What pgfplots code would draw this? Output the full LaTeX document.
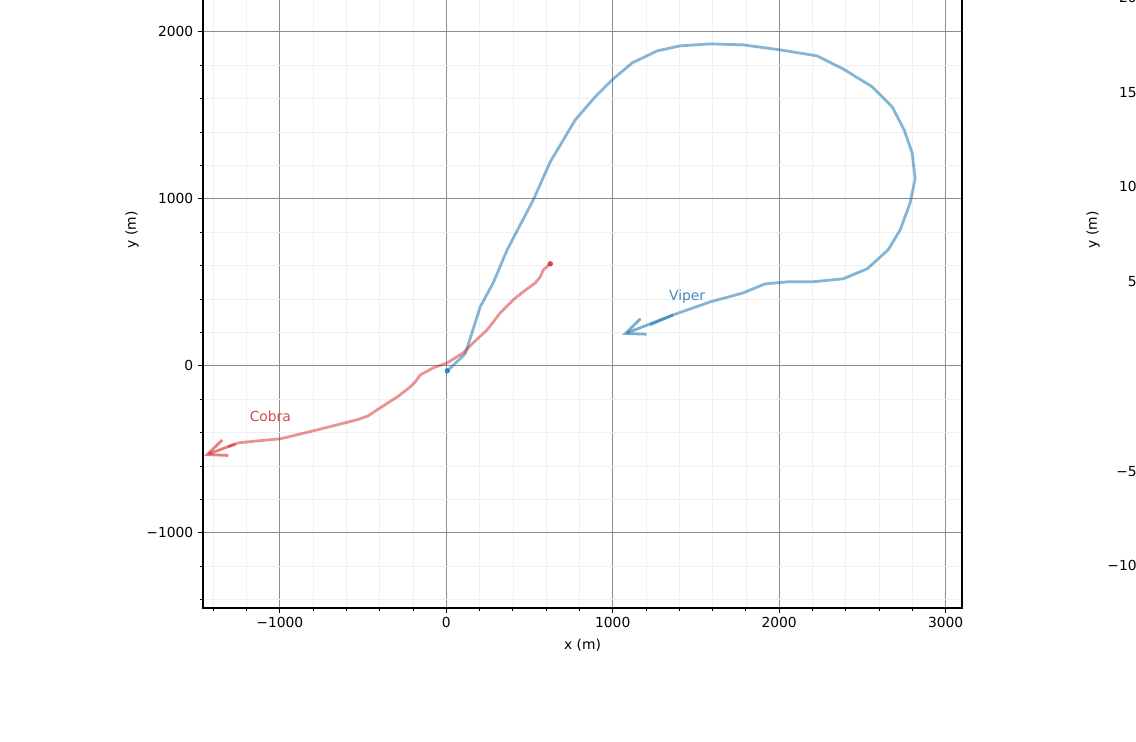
\documentclass[border=0pt]{standalone}
\usepackage{fontspec}
\setmainfont{DejaVu Sans}
\usepackage{pgfplots}
\pgfplotsset{compat=1.18}
\usetikzlibrary{arrows.meta}
\definecolor{tabblue}{HTML}{1F77B4}
\definecolor{tabred}{HTML}{D62728}
\definecolor{majgrid}{HTML}{8C8C8C}
\definecolor{mingrid}{HTML}{F0F0F0}
\pgfplotsset{
  mystyle/.style={
    scale only axis, width=7.59in, height=7.56in,
    axis line style={black, line width=0.8pt},
    tick align=outside, tick pos=left,
    major tick length=3.5pt, minor tick length=2pt,
    every tick/.style={black, line width=0.8pt},
    minor tick style={black, line width=0.6pt},
    tick label style={font=\fontsize{10}{12}\selectfont},
    /pgf/number format/assume math mode=true,
    label style={font=\fontsize{10}{12}\selectfont},
    ylabel style={at={(axis description cs:-0.0935,0.5)}, anchor=center},
    xlabel style={at={(axis description cs:0.5,-0.049)}, anchor=center},
  }
}
\begin{document}
\begin{tikzpicture}
\useasboundingbox (0,0) rectangle (11.36in,7.42in);
\clip (0,0) rectangle (11.36in,7.42in);
\begin{axis}[mystyle, at={(2.03in,1.34in)}, anchor=south west, clip=false,
  xmin=-1461.5, xmax=3098.5, ymin=-1450, ymax=3077,
  xtick={-1000,0,1000,2000,3000}, xticklabels={−1000,0,1000,2000,3000},
  ytick={-1000,0,1000,2000}, yticklabels={−1000,0,1000,2000},
  minor xtick={-1400,-1200,-800,-600,-400,-200,200,400,600,800,1200,1400,1600,1800,2200,2400,2600,2800},
  minor ytick={-1400,-1200,-800,-600,-400,-200,200,400,600,800,1200,1400,1600,1800,2200,2400,2600,2800,3000},
  grid=both,
  major grid style={majgrid, line width=0.8pt},
  minor grid style={mingrid, line width=0.5pt},
  xlabel={x (m)}, ylabel={y (m)},
]
% Viper
\addplot[tabblue, opacity=0.55, line width=2pt, line join=round] coordinates {
(6,-30) (114,72) (204,353) (282,497) (366,695) (523,994) (625,1222)
(775,1473) (895,1611) (997,1713) (1117,1814) (1267,1886) (1405,1916)
(1586,1928) (1784,1922) (2006,1892) (2228,1856) (2384,1778) (2559,1671)
(2679,1551) (2751,1413) (2799,1275) (2817,1120) (2787,976) (2727,814)
(2655,695) (2529,581) (2384,521) (2198,503) (2048,503) (1916,491)
(1784,437) (1586,383) (1363,305) (1225,246)
};
\addplot[only marks, mark=*, mark size=1.7pt, tabblue, opacity=0.8] coordinates {(6,-30)};
\addplot[tabblue, opacity=0.6, line width=2pt, -{Straight Barb[length=14pt,width=12pt]}] coordinates {(1363,305) (1057,186)};
% Cobra
\addplot[tabred, opacity=0.5, line width=2pt, line join=round] coordinates {
(625,611) (583,575) (565,533) (535,497) (462,443) (402,395) (324,317)
(246,216) (162,138) (102,78) (6,18) (-78,-12) (-156,-54) (-186,-96)
(-216,-126) (-294,-186) (-396,-251) (-470,-300) (-530,-321) (-595,-338) (-799,-389)
(-997,-437) (-1129,-449) (-1189,-455) (-1249,-461) (-1309,-485)
};
\addplot[only marks, mark=*, mark size=1.7pt, tabred, opacity=0.8] coordinates {(625,611)};
\addplot[tabred, opacity=0.6, line width=2pt, -{Straight Barb[length=14pt,width=12pt]}] coordinates {(-1267,-467) (-1456,-539)};
\node[text=tabblue!85!white, font=\fontsize{10}{12}\selectfont] at (axis cs:1447,413) {Viper};
\node[text=tabred!85!white, font=\fontsize{10}{12}\selectfont] at (axis cs:-1057,-305) {Cobra};
\end{axis}
\begin{axis}[mystyle, at={(11.64in,1.34in)}, anchor=south west,
  xmin=0, xmax=1, ymin=-1222, ymax=2767,
  xtick=\empty,
  ytick={-1000,-500,0,500,1000,1500,2000},
  yticklabels={−1000,−500,0,500,1000,1500,2000},
  ylabel={y (m)},
]
\addplot[draw=none] coordinates {(0.5,0)};
\end{axis}
\end{tikzpicture}
\end{document}
